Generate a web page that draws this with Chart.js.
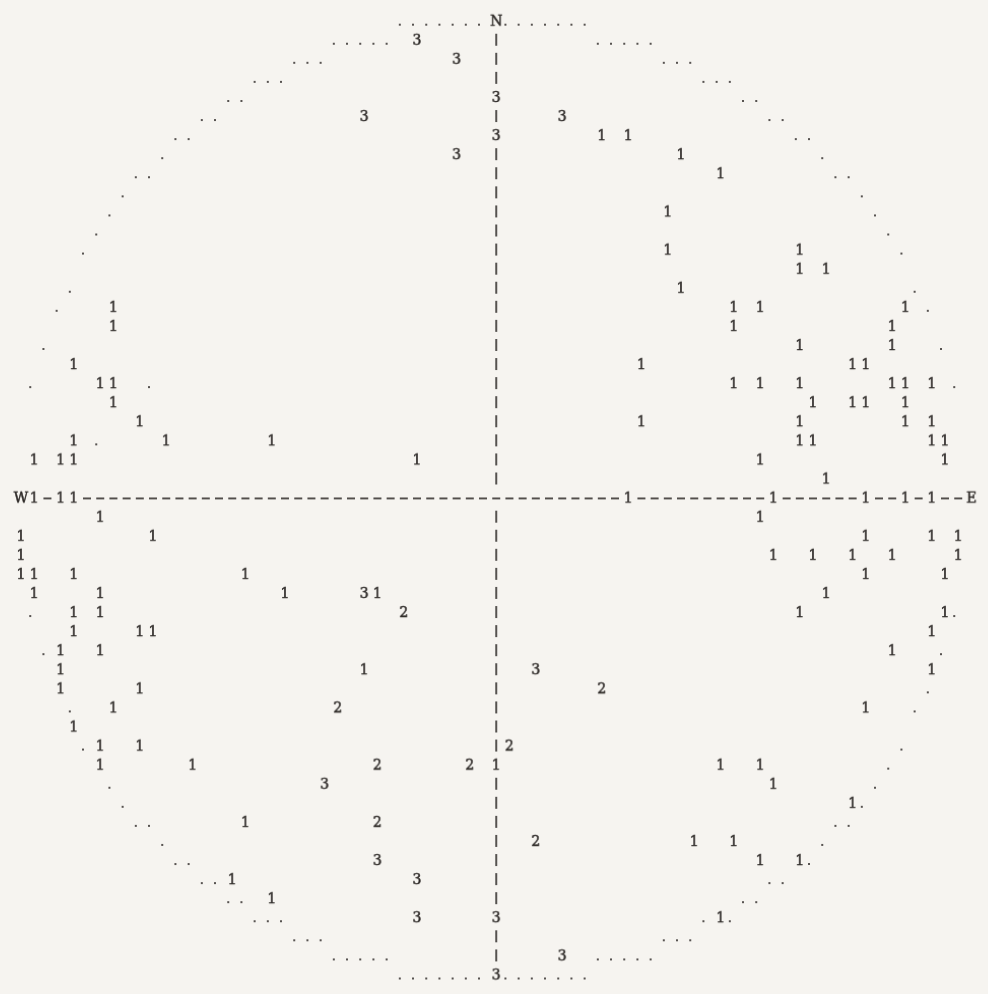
<!DOCTYPE html>
<html>
<head>
<meta charset="utf-8">
<title>Stereonet</title>
<script src="https://cdn.jsdelivr.net/npm/chart.js@4.4.1/dist/chart.umd.min.js"></script>
<style>
  html, body { margin: 0; padding: 0; background: #f6f4f0; }
  #plot { display: block; }
</style>
</head>
<body>
<canvas id="plot" width="988" height="994"></canvas>
<script>
// line-printer stereonet: x = print column (E positive), y = print line (S positive)
const ones = [
    [8, -19], [10, -19], [14, -18], [17, -17], [13, -15], [13, -13], [23, -13],
    [23, -12], [25, -12], [14, -11],
    [-29, -10], [18, -10], [20, -10], [31, -10],
    [-29, -9], [18, -9], [30, -9],
    [23, -8], [30, -8],
    [-32, -7], [11, -7], [27, -7], [28, -7],
    [-30, -6], [-29, -6], [18, -6], [20, -6], [23, -6], [30, -6], [31, -6], [33, -6],
    [-29, -5], [24, -5], [27, -5], [28, -5], [31, -5],
    [-27, -4], [11, -4], [23, -4], [31, -4], [33, -4],
    [-32, -3], [-25, -3], [-17, -3], [23, -3], [24, -3], [33, -3], [34, -3],
    [-35, -2], [-33, -2], [-32, -2], [-6, -2], [20, -2], [34, -2],
    [25, -1],
    [-35, 0], [-33, 0], [-32, 0], [10, 0], [21, 0], [28, 0], [31, 0], [33, 0],
    [-30, 1], [20, 1],
    [-36, 2], [-26, 2], [28, 2], [33, 2], [35, 2],
    [-36, 3], [21, 3], [24, 3], [27, 3], [30, 3], [35, 3],
    [-36, 4], [-35, 4], [-32, 4], [-19, 4], [28, 4], [34, 4],
    [-35, 5], [-30, 5], [-16, 5], [-9, 5], [25, 5],
    [-32, 6], [-30, 6], [23, 6], [34, 6],
    [-32, 7], [-27, 7], [-26, 7], [33, 7],
    [-33, 8], [-30, 8], [30, 8],
    [-33, 9], [-10, 9], [33, 9],
    [-33, 10], [-27, 10],
    [-29, 11], [28, 11],
    [-32, 12],
    [-30, 13], [-27, 13],
    [-30, 14], [-23, 14], [0, 14], [17, 14], [20, 14],
    [21, 15], [27, 16], [-19, 17], [15, 18], [18, 18],
    [20, 19], [23, 19], [-20, 20], [-17, 21], [17, 22]
];

const twos = [
    [-7, 6], [8, 10], [-12, 11], [1, 13], [-9, 14], [-2, 14], [-9, 17], [3, 18]
];

const threes = [
    [-6, -24], [-3, -23], [0, -21], [-10, -20], [5, -20], [0, -19], [-3, -18],
    [-10, 5], [3, 9], [-13, 15], [-9, 19], [-6, 20], [-6, 22], [0, 22], [5, 24], [0, 25]
];

// primitive circle plus a few stray dots
const dots = [
    [-7, -25], [-6, -25], [-5, -25], [-4, -25], [-3, -25], [-2, -25], [-1, -25],
    [1, -25], [2, -25], [3, -25], [4, -25], [5, -25], [6, -25], [7, -25],
    [-12, -24], [-11, -24], [-10, -24], [-9, -24], [-8, -24],
    [8, -24], [9, -24], [10, -24], [11, -24], [12, -24],
    [-15, -23], [-14, -23], [-13, -23], [13, -23], [14, -23], [15, -23],
    [-18, -22], [-17, -22], [-16, -22], [16, -22], [17, -22], [18, -22],
    [-20, -21], [-19, -21], [19, -21], [20, -21],
    [-22, -20], [-21, -20], [21, -20], [22, -20],
    [-24, -19], [-23, -19], [23, -19], [24, -19],
    [-25, -18], [25, -18],
    [-27, -17], [-26, -17], [26, -17], [27, -17],
    [-28, -16], [28, -16], [-29, -15], [29, -15], [-30, -14], [30, -14],
    [-31, -13], [31, -13], [-32, -11], [32, -11], [-33, -10], [33, -10],
    [-34, -8], [34, -8], [-35, -6], [-26, -6], [35, -6], [-30, -3],
    [-35, 6], [35, 6], [-34, 8], [34, 8], [33, 10], [-32, 11], [32, 11],
    [-31, 13], [31, 13], [30, 14], [-29, 15], [29, 15], [-28, 16], [28, 16],
    [-27, 17], [-26, 17], [26, 17], [27, 17],
    [-25, 18], [25, 18],
    [-24, 19], [-23, 19], [24, 19],
    [-22, 20], [-21, 20], [21, 20], [22, 20],
    [-20, 21], [-19, 21], [19, 21], [20, 21],
    [-18, 22], [-17, 22], [-16, 22], [16, 22], [18, 22],
    [-15, 23], [-14, 23], [-13, 23], [13, 23], [14, 23], [15, 23],
    [-12, 24], [-11, 24], [-10, 24], [-9, 24], [-8, 24],
    [8, 24], [9, 24], [10, 24], [11, 24], [12, 24],
    [-7, 25], [-6, 25], [-5, 25], [-4, 25], [-3, 25], [-2, 25], [-1, 25],
    [1, 25], [2, 25], [3, 25], [4, 25], [5, 25], [6, 25], [7, 25]
];

const compass = [
    { x: 0, y: -25, ch: 'N' },
    { x: -36, y: 0, ch: 'W' },
    { x: 36, y: 0, ch: 'E' }
];

const INK = '#2f2b29';
const FONT = '14px "DejaVu Serif"';

// axis characters fill every free cell of row 0 and column 0
const taken = new Set([...ones, ...twos, ...threes, ...dots].map(p => p.join(',')));
compass.forEach(p => taken.add(p.x + ',' + p.y));
const dashCells = [];
for (let c = -35; c <= 35; c++) if (!taken.has(c + ',0')) dashCells.push([c, 0]);
const barCells = [];
for (let r = -24; r <= 24; r++) if (r !== 0 && !taken.has('0,' + r)) barCells.push([0, r]);

// small canvases used as point styles, one per printed character
function glyph(draw) {
    const cv = document.createElement('canvas');
    cv.width = 18; cv.height = 22;
    const g = cv.getContext('2d');
    g.fillStyle = INK;
    g.strokeStyle = INK;
    draw(g, 9, 11);
    return cv;
}
const textGlyph = ch => glyph((g, cx, cy) => {
    g.font = FONT;
    g.textAlign = 'center';
    g.textBaseline = 'alphabetic';
    g.lineWidth = 0.5;
    g.fillText(ch, cx, cy + 5);
    g.strokeText(ch, cx, cy + 5);
});
const glyphs = {
    '1': textGlyph('1'),
    '2': textGlyph('2'),
    '3': textGlyph('3'),
    'N': textGlyph('N'),
    'W': textGlyph('W'),
    'E': textGlyph('E'),
    '.': glyph((g, cx, cy) => { g.globalAlpha = 0.8; g.fillRect(cx - 5, cy + 3, 2, 2); }),
    '-': glyph((g, cx, cy) => g.fillRect(cx - 4, cy, 8, 1.6)),
    '|': glyph((g, cx, cy) => g.fillRect(cx - 0.8, cy - 6, 1.6, 12))
};

const cells = list => list.map(([x, y]) => ({ x, y }));
const layer = (data, style) => ({
    data, pointStyle: style, pointRadius: 9, clip: false, showLine: false
});

new Chart(document.getElementById('plot'), {
    type: 'scatter',
    data: {
        datasets: [
            layer(cells(dots), glyphs['.']),
            layer(cells(dashCells), glyphs['-']),
            layer(cells(barCells), glyphs['|']),
            layer(cells(ones), glyphs['1']),
            layer(cells(twos), glyphs['2']),
            layer(cells(threes), glyphs['3']),
            {
                data: compass, clip: false, pointRadius: 9,
                pointStyle: ctx => glyphs[ctx.raw ? ctx.raw.ch : 'N']
            }
        ]
    },
    options: {
        responsive: false,
        animation: false,
        events: [],
        layout: { padding: { left: 14.4, right: 6.35, top: 11.1, bottom: 1.15 } },
        plugins: { legend: { display: false }, tooltip: { enabled: false } },
        scales: {
            x: { type: 'linear', min: -36.5, max: 36.5, display: false },
            y: { type: 'linear', min: -25.5, max: 25.5, reverse: true, display: false }
        }
    }
});
</script>
</body>
</html>
